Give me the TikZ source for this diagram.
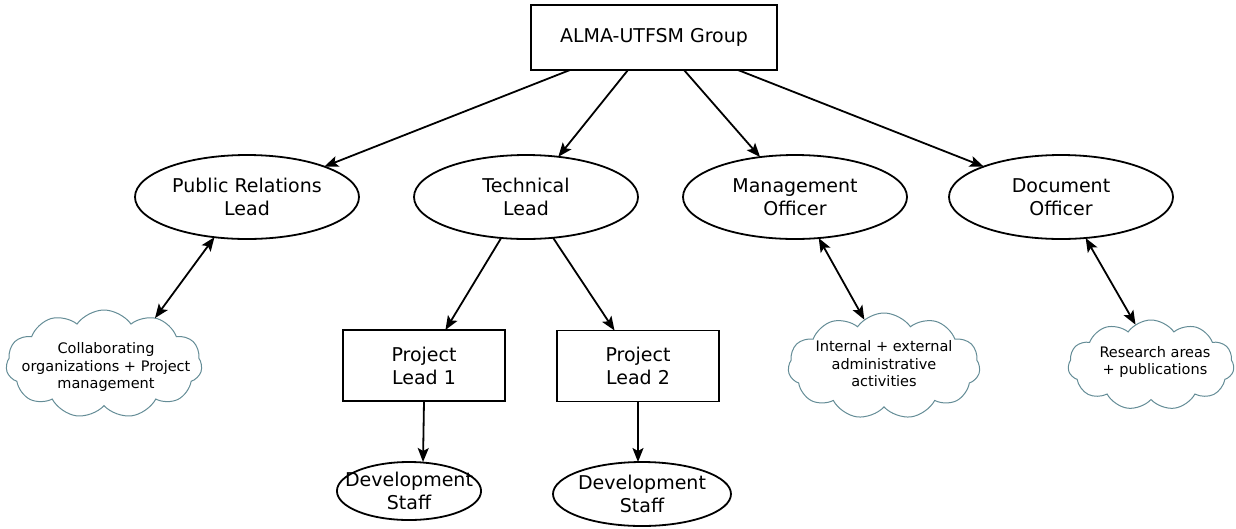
\documentclass[tikz,border=0pt]{standalone}
\usepackage{fontspec}
\setmainfont{DejaVu Sans}
\usetikzlibrary{shapes.geometric,shapes.symbols,arrows.meta}
\definecolor{cloudline}{RGB}{100,140,150}
\begin{document}
\begin{tikzpicture}[x=1pt,y=-1pt,
  every node/.style={inner sep=0pt,outer sep=0pt},
  mainfont/.style={font=\fontsize{19}{23}\selectfont, align=center},
  boxnode/.style={mainfont, draw=black, line width=1.8pt, rectangle},
  ellnode/.style={mainfont, draw=black, line width=1.8pt, ellipse},
  cloudnode/.style={draw=cloudline, line width=1pt, cloud, cloud puffs=11, cloud puff arc=110, cloud ignores aspect},
  cloudtext/.style={align=center, font=\fontsize{14.5}{17.5}\selectfont},
  tip/.style={},
  arr/.style={line width=1.8pt, -{Stealth[length=14pt,width=11pt,inset=3pt]}},
  darr/.style={line width=1.8pt, {Stealth[length=14pt,width=11pt,inset=3pt]}-{Stealth[length=14pt,width=11pt,inset=3pt]}}
]
\useasboundingbox (0,0) rectangle (1236,528);

\node[boxnode, minimum width=246pt, minimum height=65pt] (alma) at (654,37.5) {ALMA-UTFSM Group};

\node[ellnode, minimum width=224pt, minimum height=84pt] (pr) at (247,197) {Public Relations\\Lead};
\node[ellnode, minimum width=224pt, minimum height=84pt] (tech) at (526,197) {Technical\\Lead};
\node[ellnode, minimum width=224pt, minimum height=84pt] (mgmt) at (795,197) {Management\\Officer};
\node[ellnode, minimum width=224pt, minimum height=84pt] (doc) at (1061,197) {Document\\Officer};

\node[boxnode, minimum width=162pt, minimum height=71pt] (pl1) at (424,365.5) {Project\\Lead 1};
\node[boxnode, minimum width=162pt, minimum height=71pt] (pl2) at (638,366) {Project\\Lead 2};

\node[ellnode, inner xsep=-13pt, minimum width=142pt, minimum height=58pt] (ds1) at (409,491) {Development\\Staff};
\node[ellnode, inner xsep=-4pt, minimum width=178pt, minimum height=64pt] (ds2) at (642,494) {Development\\Staff};

\node[cloudnode, minimum width=196pt, minimum height=108pt] (c1) at (104,364) {};
\node[cloudtext] (t1) at (106,367) {Collaborating\\organizations + Project\\management};
\node[cloudnode, minimum width=192pt, minimum height=106pt] (c2) at (884,366) {};
\node[cloudtext] (t2) at (884,364) {Internal + external\\administrative\\activities};
\node[cloudnode, minimum width=166pt, minimum height=90pt] (c3) at (1151,365) {};
\node[cloudtext] (t3) at (1155,362) {Research areas\\+ publications};

\draw[arr] ([xshift=-84pt]alma.south) -- (pr);
\draw[arr] ([xshift=-26pt]alma.south) -- (tech);
\draw[arr] ([xshift=30pt]alma.south) -- (mgmt);
\draw[arr] ([xshift=84pt]alma.south) -- (doc);

\draw[arr] (tech) -- (pl1);
\draw[arr] (tech) -- (pl2);

\draw[arr] (pl1.south) -- ([xshift=14pt]ds1.north);
\draw[arr] ([xshift=-4pt]ds2.north |- pl2.south) -- ([xshift=-4pt]ds2.north);

\draw[darr] (pr.231.8) -- (c1.42);
\draw[darr] (mgmt.300.8) -- (c2.113);
\draw[darr] (doc.301.8) -- (c3.111.6);
\end{tikzpicture}
\end{document}
